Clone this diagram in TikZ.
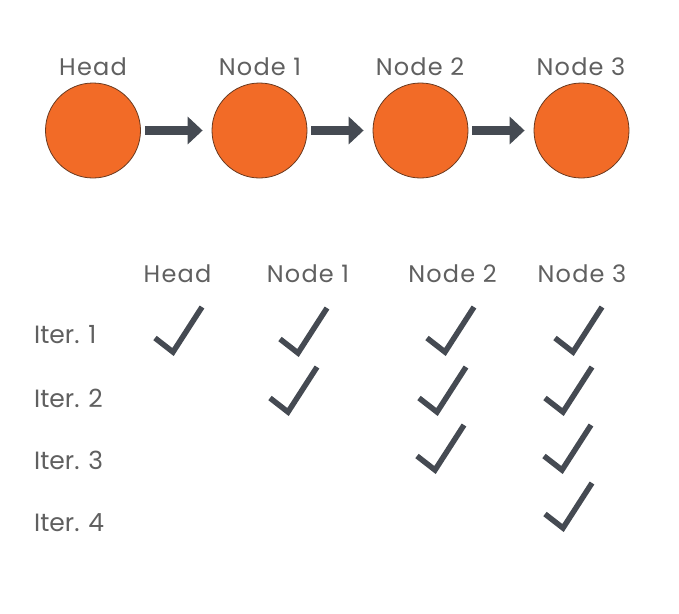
\documentclass[tikz,border=0pt]{standalone}
\usepackage{fontspec}
\setmainfont{Poppins}
\usetikzlibrary{arrows.meta}
\definecolor{listorange}{HTML}{F26B27}
\definecolor{listedge}{HTML}{6A3A20}
\definecolor{slate}{HTML}{454A52}
\definecolor{labelgray}{HTML}{606060}
\begin{document}
\begin{tikzpicture}[x=1pt,y=-1pt,
   listnode/.style={circle,draw=listedge,line width=0.8pt,fill=listorange,
     minimum size=95pt,inner sep=0pt},
   nodelabel/.style={text=labelgray,inner sep=0pt,
     font=\fontsize{24}{28}\selectfont\addfontfeatures{LetterSpace=5}},
   iterlabel/.style={text=labelgray,inner sep=0pt,anchor=west,font=\fontsize{25}{30}\selectfont},
   link/.style={draw=slate,line width=9pt,shorten <=4pt,shorten >=9pt,
     -{Triangle[width=27pt,length=15pt]}},
   tick/.pic={\draw[slate,line width=5.5pt,line join=miter,line cap=butt]
     (-18,-14) -- (0,0) -- (29,-45);}]
\useasboundingbox[fill=white] (0,0) rectangle (679,613);
% the list
\node[listnode] (head) at (93,130.5) {};
\node[listnode] (n1) at (259.5,130.5) {};
\node[listnode] (n2) at (420.5,130.5) {};
\node[listnode] (n3) at (581.5,130.5) {};
\node[nodelabel] (headlbl) at (93,66.5) {Head};
\node[nodelabel] (n1lbl) at (260,66.5) {Node 1};
\node[nodelabel] (n2lbl) at (420,66.5) {Node 2};
\node[nodelabel] (n3lbl) at (581,66.5) {Node 3};
\draw[link] (head) -- (n1);
\draw[link] (n1) -- (n2);
\draw[link] (n2) -- (n3);
% the table
\node[nodelabel] (colh) at (177.5,273.5) {Head};
\node[nodelabel] (col1) at (308,273.5) {Node 1};
\node[nodelabel] (col2) at (452.5,273.5) {Node 2};
\node[nodelabel] (col3) at (582,273.5) {Node 3};
\node[iterlabel] (it1) at (34,335) {Iter. 1};
\node[iterlabel] (it2) at (34,398) {Iter. 2};
\node[iterlabel] (it3) at (34,460) {Iter. 3};
\node[iterlabel] (it4) at (34,523) {Iter. 4};
\foreach \x/\y in {173/352,298/353,445/352,573/352,
                   288/412,437/412,563/412,
                   435/470,562/470,
                   563/528}
  \pic at (\x,\y) {tick};
\end{tikzpicture}
\end{document}
